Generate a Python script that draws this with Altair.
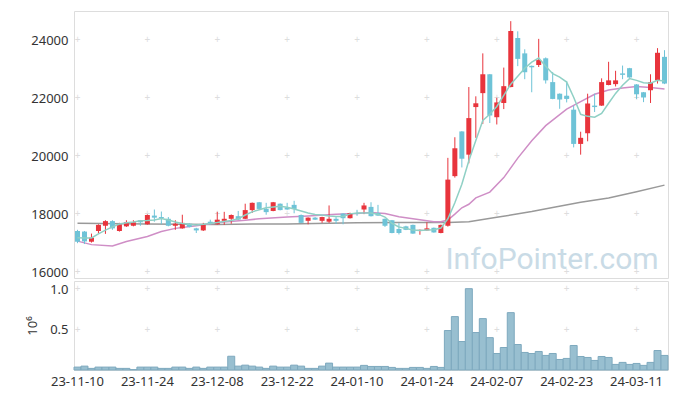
import altair as alt
import pandas as pd

dates = ["23-11-10","23-11-13","23-11-14","23-11-15","23-11-16","23-11-17","23-11-20","23-11-21","23-11-22","23-11-23",
         "23-11-24","23-11-27","23-11-28","23-11-29","23-11-30","23-12-01","23-12-04","23-12-05","23-12-06","23-12-07",
         "23-12-08","23-12-11","23-12-12","23-12-13","23-12-14","23-12-15","23-12-18","23-12-19","23-12-20","23-12-21",
         "23-12-22","23-12-26","23-12-27","23-12-28","24-01-02","24-01-03","24-01-04","24-01-05","24-01-08","24-01-09",
         "24-01-10","24-01-11","24-01-12","24-01-15","24-01-16","24-01-17","24-01-18","24-01-19","24-01-22","24-01-23",
         "24-01-24","24-01-25","24-01-26","24-01-29","24-01-30","24-01-31","24-02-01","24-02-02","24-02-05","24-02-06",
         "24-02-07","24-02-08","24-02-13","24-02-14","24-02-15","24-02-16","24-02-19","24-02-20","24-02-21","24-02-22",
         "24-02-23","24-02-26","24-02-27","24-02-28","24-02-29","24-03-04","24-03-05","24-03-06","24-03-07","24-03-08",
         "24-03-11","24-03-12","24-03-13","24-03-14","24-03-15"]

opens = [17420,17400,17050,17420,17600,17760,17420,17580,17600,17790,
         17650,17950,17900,17840,17600,17510,17670,17510,17440,17740,
         17650,17770,17840,17930,17840,18140,18410,18180,18110,18360,
         18230,18320,17970,17770,17880,17770,17740,17840,18020,17860,
         18040,18160,18250,18040,17840,17790,17490,17580,17630,17440,
         17440,17530,17350,17600,19310,20850,20050,21690,22170,22820,
         21340,21830,22380,24070,23540,23110,23140,23370,22550,22150,
         22080,21600,20420,20790,21740,21740,22450,22480,22850,23030,
         22470,22200,22270,22610,23420]
highs = [17460,17420,17330,17650,17790,17790,17700,17790,17790,17800,
         17990,18160,18090,17900,17790,17980,17690,17530,17700,17810,
         18080,18080,17990,18110,18360,18400,18420,18390,18420,18370,
         18390,18460,17990,17890,17900,17910,18300,17900,18030,18050,
         18150,18390,18410,18320,17850,17800,17690,17600,17640,17470,
         17720,17540,17640,19940,20650,20860,22380,22060,23540,22830,
         22010,23050,24650,24300,23680,23120,24040,23400,22900,22160,
         22590,21740,20840,22150,22150,22680,23250,22940,23120,23040,
         22480,22210,22820,23720,23650]
lows = [17000,16970,17020,17330,17320,17460,17400,17560,17580,17600,
        17640,17740,17650,17580,17460,17500,17540,17350,17420,17640,
        17640,17630,17670,17800,17830,18040,18170,17980,18100,18130,
        18150,18030,17690,17650,17800,17700,17700,17660,17650,17850,
        17950,18000,17920,17940,17560,17340,17300,17450,17320,17290,
        17430,17360,17340,17570,19260,19610,19750,20630,21110,21140,
        21090,21620,22370,23100,22650,22200,23070,22500,21960,21630,
        21850,20300,20050,20510,21520,21730,22440,22400,22650,22700,
        21970,21860,21830,22500,22480]
closes = [17050,17060,17190,17630,17760,17510,17650,17720,17720,17720,
          17970,17880,17860,17600,17670,17700,17560,17440,17650,17670,
          17810,17840,17970,17810,18140,18390,18180,18070,18410,18140,
          18160,18180,17700,17880,17810,17900,17840,17770,17860,18040,
          18020,18300,17930,17950,17600,17350,17350,17460,17330,17460,
          17510,17370,17630,19190,20270,19910,21310,21820,22820,21400,
          21850,22410,24310,23350,22890,23060,23310,22610,21970,21950,
          21970,20420,20630,21810,21690,22550,22610,22610,22800,22710,
          22130,22020,22550,23560,22500]
volumes = [0.036,0.048,0.020,0.036,0.036,0.036,0.020,0.020,0.005,0.036,
           0.036,0.036,0.020,0.020,0.036,0.036,0.020,0.036,0.020,0.036,
           0.036,0.036,0.170,0.048,0.060,0.048,0.036,0.020,0.048,0.036,
           0.036,0.060,0.048,0.020,0.020,0.048,0.085,0.036,0.036,0.036,
           0.036,0.057,0.044,0.044,0.044,0.032,0.020,0.020,0.032,0.032,
           0.020,0.044,0.032,0.488,0.660,0.352,1.005,0.463,0.635,0.400,
           0.204,0.278,0.709,0.315,0.217,0.204,0.229,0.180,0.204,0.130,
           0.143,0.303,0.167,0.155,0.118,0.167,0.155,0.069,0.094,0.069,
           0.081,0.057,0.094,0.241,0.180]

ma5 = [17190,17180,17180,17320,17450,17560,17660,17700,17730,17770,
       17780,17800,17850,17800,17730,17680,17650,17630,17650,17680,
       17710,17750,17780,17840,17970,18080,18150,18220,18250,18270,
       18240,18180,18110,18040,17990,17970,17940,17920,17920,18010,
       18040,18040,18040,18000,17900,17680,17560,17510,17450,17440,
       17450,17460,17520,17840,18390,19030,19840,20540,21230,21440,
       21710,22090,22480,22750,23030,23240,23380,23100,22840,22720,
       22550,22030,21440,21370,21340,21470,21820,22160,22440,22670,
       22610,22530,22510,22610,22590]

ma20_dates = ["23-11-10","23-11-14","23-11-17","23-11-21","23-11-24","23-11-28","23-11-30","23-12-05","23-12-07",
              "23-12-11","23-12-14","23-12-18","23-12-22","23-12-28","24-01-05","24-01-10","24-01-12","24-01-16",
              "24-01-18","24-01-23","24-01-25","24-01-26","24-01-29","24-01-30","24-01-31","24-02-01","24-02-02",
              "24-02-06","24-02-08","24-02-14","24-02-16","24-02-20","24-02-23","24-02-27","24-02-29","24-03-05",
              "24-03-07","24-03-11","24-03-13","24-03-15"]
ma20_vals = [17070,16950,16900,17060,17230,17400,17510,17600,17670,
             17730,17790,17840,17900,17940,18000,18020,18060,18020,
             17910,17810,17740,17740,17800,18000,18220,18340,18560,
             18760,19260,19930,20530,21050,21620,21880,22130,22280,
             22350,22400,22360,22310]

malong_dates = ["23-11-10","23-11-24","23-12-08","23-12-15","23-12-22","24-01-10","24-01-18","24-01-24",
                "24-01-29","24-02-01","24-02-07","24-02-13","24-02-16","24-02-21","24-02-27","24-03-05",
                "24-03-11","24-03-15"]
malong_vals = [17690,17660,17645,17660,17660,17700,17710,17710,
               17710,17740,17890,17970,18090,18230,18410,18560,
               18770,19000]

tick_dates = ["23-11-10","23-11-24","23-12-08","23-12-22","24-01-10","24-01-24","24-02-07","24-02-23","24-03-11"]
price_ticks = [16000, 18000, 20000, 22000, 24000]
vol_ticks = [0.5, 1.0]

UP = "#e8343c"
DOWN = "#6ec3d7"
FONT = "Noto Sans"

df = pd.DataFrame({"date": dates, "open": opens, "high": highs, "low": lows,
                   "close": closes, "vol": volumes, "ma5": ma5})
df["dir"] = ["up" if c >= o else "down" for o, c in zip(opens, closes)]
ma20_df = pd.DataFrame({"date": ma20_dates, "v": ma20_vals})
malong_df = pd.DataFrame({"date": malong_dates, "v": malong_vals})
cross_top = pd.DataFrame([{"date": d, "p": p} for d in tick_dates for p in price_ticks])
cross_bot = pd.DataFrame([{"date": d, "p": p} for d in tick_dates for p in vol_ticks])

xs = alt.Scale(paddingInner=0, paddingOuter=0)
x_top = alt.X("date:O", sort=dates, scale=xs, axis=None)
ys = alt.Scale(domain=[15800, 25000], nice=False, zero=False)
y_axis = alt.Axis(values=price_ticks, format="d", title=None, grid=False, ticks=False, domain=False,
                  labelFontSize=13, labelColor="#333333", labelPadding=6, labelFont=FONT)
color = alt.Color("dir:N", scale=alt.Scale(domain=["up", "down"], range=[UP, DOWN]), legend=None)

crosses_t = alt.Chart(cross_top).mark_text(text="+", color="#dddddd", fontSize=10).encode(
    x=x_top, y=alt.Y("p:Q", scale=ys, axis=y_axis))
watermark = alt.Chart(pd.DataFrame({"t": ["InfoPointer.com"]})).mark_text(
    fontSize=30, color="#c9dbe6", font="Roboto", align="center", baseline="alphabetic").encode(
    text="t:N", x=alt.value(478), y=alt.value(258))
wick = alt.Chart(df).mark_rule(strokeWidth=1).encode(
    x=x_top, y=alt.Y("low:Q", scale=ys, axis=y_axis), y2="high:Q", color=color)
body = alt.Chart(df).mark_bar(size=5).encode(
    x=x_top, y=alt.Y("open:Q", scale=ys, axis=y_axis), y2="close:Q", color=color)
line_long = alt.Chart(malong_df).mark_line(color="#999999", strokeWidth=1.5).encode(
    x=x_top, y=alt.Y("v:Q", scale=ys, axis=y_axis))
line20 = alt.Chart(ma20_df).mark_line(color="#cf8ec6", strokeWidth=1.5).encode(
    x=x_top, y=alt.Y("v:Q", scale=ys, axis=y_axis))
line5 = alt.Chart(df).mark_line(color="#8fd0c5", strokeWidth=1.5).encode(
    x=x_top, y=alt.Y("ma5:Q", scale=ys, axis=y_axis))

top = alt.layer(crosses_t, watermark, line_long, line20, wick, body, line5).properties(width=594, height=267)

x_bot = alt.X("date:O", sort=dates, scale=xs,
              axis=alt.Axis(values=tick_dates, labelAngle=0, ticks=False, domain=False, title=None,
                            labelFontSize=13, labelColor="#333333", labelPadding=5, labelFont=FONT))
vs = alt.Scale(domain=[0, 1.1], nice=False)
v_axis = alt.Axis(values=vol_ticks, format=".1f", title="10⁶", grid=False, ticks=False, domain=False,
                  labelFontSize=13, labelColor="#333333", labelPadding=6, labelFont=FONT,
                  titleFont=FONT, titleFontSize=13, titleFontWeight="normal", titleColor="#333333",
                  titlePadding=10)
crosses_b = alt.Chart(cross_bot).mark_text(text="+", color="#dddddd", fontSize=10).encode(
    x=x_bot, y=alt.Y("p:Q", scale=vs, axis=v_axis))
vbars = alt.Chart(df).mark_bar(fill="#98bfd0", stroke="#7ea9be", strokeWidth=1).encode(
    x=x_bot, y=alt.Y("vol:Q", scale=vs, axis=v_axis))
bottom = alt.layer(crosses_b, vbars).properties(width=594, height=89)

chart = alt.vconcat(top, bottom, spacing=0).properties(
    padding={"left": 18, "top": 2, "right": 0, "bottom": 0}
).configure_view(stroke="#e3e3e3").configure(font=FONT)

chart.save("out.html", embed_options={"renderer": "svg", "actions": False})
